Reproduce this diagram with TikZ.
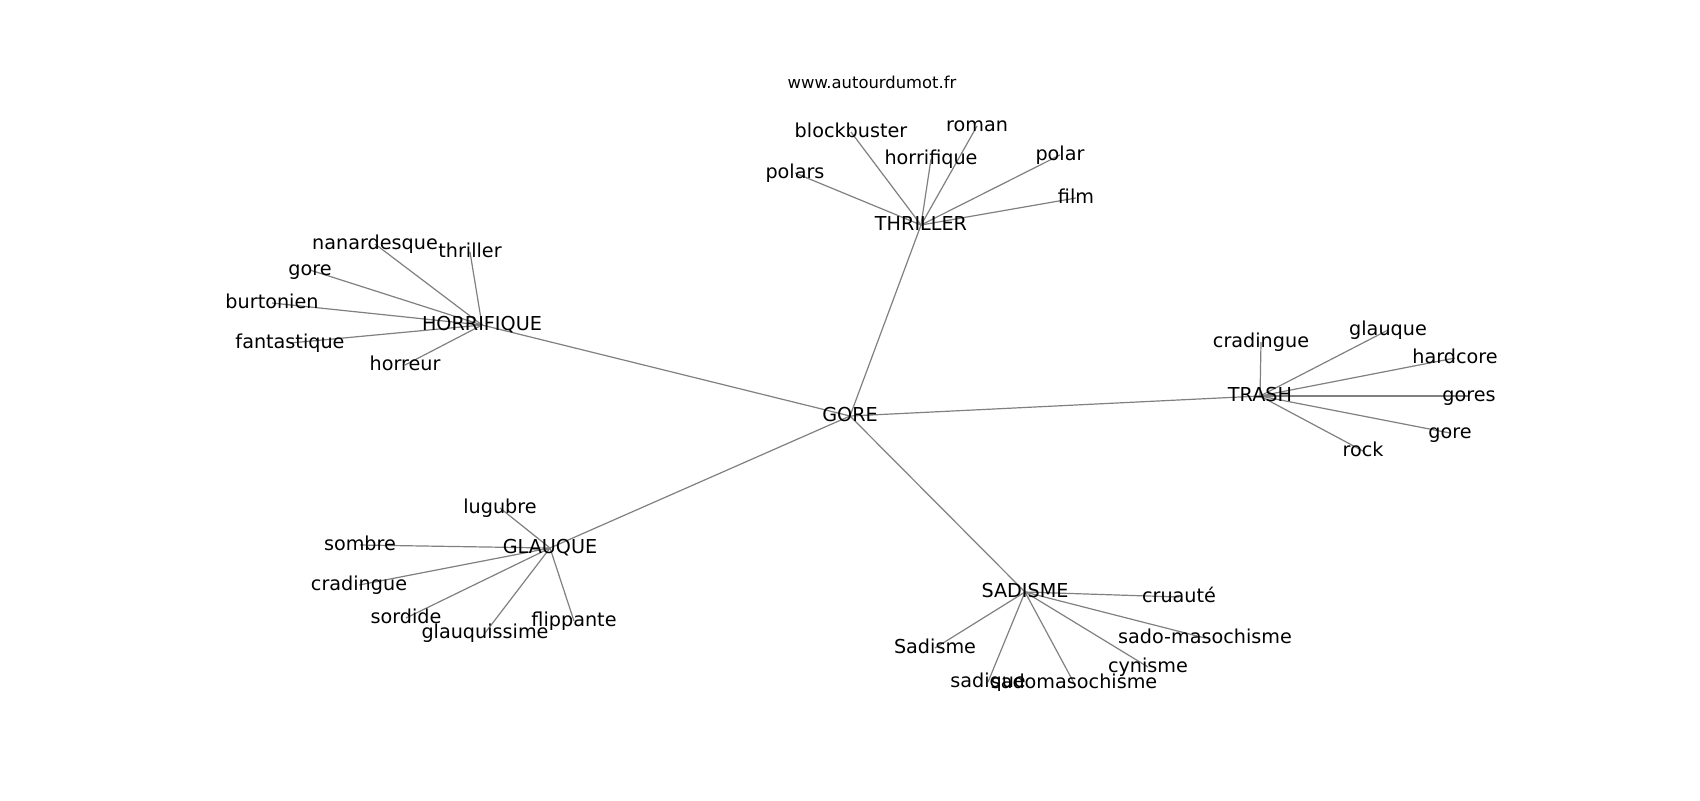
\documentclass[tikz,border=0pt]{standalone}
\usepackage{fontspec}
\setmainfont{DejaVu Sans}
\begin{document}
\begin{tikzpicture}[x=0.5pt,y=-0.5pt,
  lab/.style={inner sep=0pt, anchor=base, yshift=-2.5pt, font=\fontsize{9.6pt}{11pt}\selectfont, text=black},
  ttl/.style={inner sep=0pt, anchor=base, yshift=-2.1pt, font=\fontsize{8.2pt}{10pt}\selectfont, text=black},
  edge/.style={draw=black!50, line width=0.6pt}]
\useasboundingbox (0,0) rectangle (1700,800);
\fill[white] (0,0) rectangle (1700,800);
% hubs
\coordinate (gore) at (850,416);
\coordinate (thr) at (921,225);
\coordinate (hor) at (482,325);
\coordinate (tra) at (1260,396);
\coordinate (gla) at (550,548);
\coordinate (sad) at (1025,592);
% THRILLER leaves
\coordinate (t1) at (851,132);
\coordinate (t2) at (977,126);
\coordinate (t3) at (931,159);
\coordinate (t4) at (1060,155);
\coordinate (t5) at (795,173);
\coordinate (t6) at (1076,198);
% HORRIFIQUE leaves
\coordinate (h1) at (375,244);
\coordinate (h2) at (470,252);
\coordinate (h3) at (310,270);
\coordinate (h4) at (272,303);
\coordinate (h5) at (290,343);
\coordinate (h6) at (405,365);
% TRASH leaves
\coordinate (r1) at (1261,342);
\coordinate (r2) at (1388,330);
\coordinate (r3) at (1455,358);
\coordinate (r4) at (1469,396);
\coordinate (r5) at (1450,433);
\coordinate (r6) at (1363,451);
% GLAUQUE leaves
\coordinate (g1) at (500,508);
\coordinate (g2) at (360,545);
\coordinate (g3) at (359,585);
\coordinate (g4) at (406,618);
\coordinate (g5) at (485,633);
\coordinate (g6) at (574,621);
% SADISME leaves
\coordinate (s1) at (1179,597);
\coordinate (s2) at (1205,638);
\coordinate (s3) at (935,648);
\coordinate (s4) at (1148,667);
\coordinate (s5) at (988,682);
\coordinate (s6) at (1074,683);
% edges
\foreach \a/\b in {gore/thr,gore/hor,gore/tra,gore/gla,gore/sad,
  thr/t1,thr/t2,thr/t3,thr/t4,thr/t5,thr/t6,
  hor/h1,hor/h2,hor/h3,hor/h4,hor/h5,hor/h6,
  tra/r1,tra/r2,tra/r3,tra/r4,tra/r5,tra/r6,
  gla/g1,gla/g2,gla/g3,gla/g4,gla/g5,gla/g6,
  sad/s1,sad/s2,sad/s3,sad/s4,sad/s5,sad/s6}
  \draw[edge] (\a) -- (\b);
% labels
\coordinate (www) at (872,84);
\node[ttl] (wwwL) at (www) {www.autourdumot.fr};
\node[lab] (goreL) at (gore) {GORE};
\node[lab] (thrL) at (thr) {THRILLER};
\node[lab] (horL) at (hor) {HORRIFIQUE};
\node[lab] (traL) at (tra) {TRASH};
\node[lab] (glaL) at (gla) {GLAUQUE};
\node[lab] (sadL) at (sad) {SADISME};
\node[lab] at (t1) {blockbuster};
\node[lab] at (t2) {roman};
\node[lab] at (t3) {horrifique};
\node[lab] at (t4) {polar};
\node[lab] at (t5) {polars};
\node[lab] at (t6) {film};
\node[lab] at (h1) {nanardesque};
\node[lab] at (h2) {thriller};
\node[lab] at (h3) {gore};
\node[lab] at (h4) {burtonien};
\node[lab] at (h5) {fantastique};
\node[lab] at (h6) {horreur};
\node[lab] at (r1) {cradingue};
\node[lab] at (r2) {glauque};
\node[lab] at (r3) {hardcore};
\node[lab] at (r4) {gores};
\node[lab] at (r5) {gore};
\node[lab] at (r6) {rock};
\node[lab] at (g1) {lugubre};
\node[lab] at (g2) {sombre};
\node[lab] at (g3) {cradingue};
\node[lab] at (g4) {sordide};
\node[lab] at (g5) {glauquissime};
\node[lab] at (g6) {flippante};
\node[lab] at (s1) {cruauté};
\node[lab] at (s2) {sado-masochisme};
\node[lab] at (s3) {Sadisme};
\node[lab] at (s4) {cynisme};
\node[lab] at (s5) {sadique};
\node[lab] at (s6) {sadomasochisme};
\end{tikzpicture}
\end{document}
